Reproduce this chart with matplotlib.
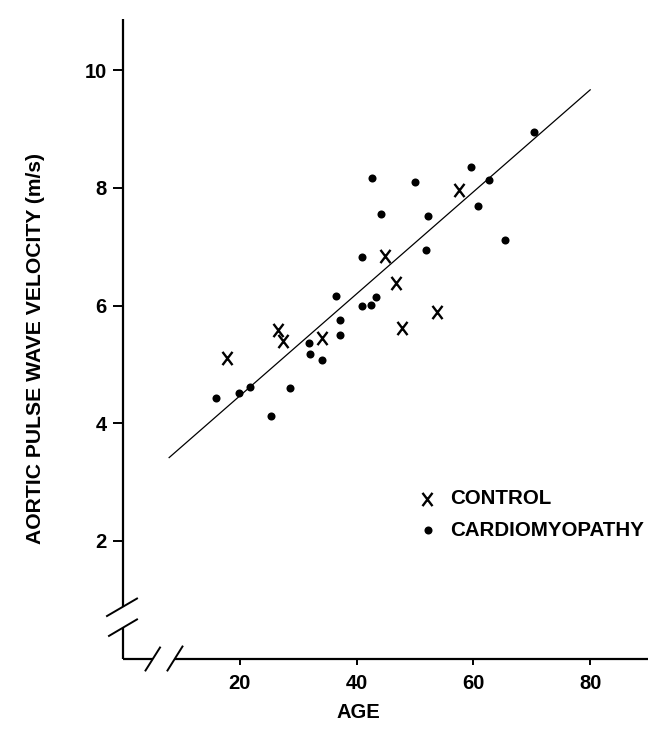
import matplotlib
matplotlib.use("Agg")
import matplotlib.pyplot as plt
from matplotlib.path import Path
from matplotlib.lines import Line2D

plt.rcParams['font.family'] = ['Liberation Sans', 'DejaVu Sans']
plt.rcParams['font.weight'] = 'bold'

# control subjects (X)
control_age = [17.8, 26.6, 27.4, 34.0, 44.9, 46.7, 47.7, 53.7, 57.6]
control_pwv = [5.10, 5.59, 5.40, 5.45, 6.84, 6.38, 5.61, 5.89, 7.97]

# cardiomyopathy patients (dots)
cmp_age = [16.0, 19.9, 21.7, 25.3, 28.6, 31.8, 32.0, 34.0, 37.2, 37.2,
           36.5, 41.0, 41.0, 42.5, 43.4, 42.6, 44.2, 50.0, 51.9, 52.3,
           59.6, 60.8, 62.6, 65.4, 70.3]
cmp_pwv = [4.42, 4.52, 4.62, 4.12, 4.59, 5.36, 5.17, 5.07, 5.75, 5.50,
           6.16, 6.83, 5.99, 6.01, 6.14, 8.16, 7.55, 8.10, 6.94, 7.52,
           8.36, 7.69, 8.14, 7.12, 8.95]

# regression line
fit_intercept = 2.73
fit_slope = 0.0867
fit_range = [7.9, 80.0]

x_ticks = [20, 40, 60, 80]
y_ticks = [2, 4, 6, 8, 10]

W, H = 648, 739
fig = plt.figure(figsize=(W / 100, H / 100), dpi=100)
ax = fig.add_axes([123 / W, 80.5 / H, 525 / W, 639.5 / H])
xmax, ymax = 89.9, 10.87
ax.set_xlim(0, xmax)
ax.set_ylim(0, ymax)

# letter-like X marker (a bit taller than wide)
xmark = Path([(-0.38, -0.5), (0.38, 0.5), (-0.38, 0.5), (0.38, -0.5)],
             [Path.MOVETO, Path.LINETO, Path.MOVETO, Path.LINETO])

fx = [fit_range[0], fit_range[1]]
fy = [fit_intercept + fit_slope * a for a in fx]
ax.plot(fx, fy, color='black', lw=0.9)
ax.plot(cmp_age, cmp_pwv, 'o', color='black', ms=5.8, mew=0)
ax.plot(control_age, control_pwv, ls='none', marker=xmark, ms=9.5,
        mec='black', mew=1.7)

for s in ax.spines.values():
    s.set_visible(False)

# axis lines with breaks
kw = dict(color='black', lw=1.6, clip_on=False, solid_capstyle='butt')
ax.plot([0, 0], [0, 0.52], **kw)
ax.plot([0, 0], [0.875, ymax], **kw)
ax.plot([0, 5.14], [0, 0], **kw)
ax.plot([8.9, xmax], [0, 0], **kw)

# break slashes, drawn in pixels
def slash(xd, yd, dx0, dy0, dx1, dy1):
    px, py = ax.transData.transform((xd, yd))
    fig.add_artist(Line2D([px + dx0, px + dx1], [py + dy0, py + dy1],
                          transform=None, color='black', lw=1.4))

fig.canvas.draw()
slash(0, 0.875, -16, -9, 14, 8.5)
slash(0, 0.52, -14, -8, 14, 8.5)
slash(5.14, 0, -7.5, -12, 7, 11)
slash(8.9, 0, -7.5, -12, 7.5, 12)

ax.set_xticks(x_ticks)
ax.set_yticks(y_ticks)
ax.tick_params(axis='x', direction='out', length=4.5, width=1.4, pad=7,
               labelsize=14.5)
ax.tick_params(axis='y', direction='out', length=7.2, width=1.4, pad=4.5,
               labelsize=14.5)
for lab in ax.get_xticklabels() + ax.get_yticklabels():
    lab.set_fontweight('bold')

fig.text(358 / W, 1 - 713 / H, 'AGE', ha='center', va='center',
         fontsize=14.5, fontweight='bold')
fig.text(36 / W, 1 - 349 / H, 'AORTIC PULSE WAVE VELOCITY (m/s)',
         rotation=90, ha='center', va='center', fontsize=15.2,
         fontweight='bold')

# legend
fig.add_artist(Line2D([427 / W], [1 - 499 / H], ls='none', marker=xmark,
                      ms=9.5, mec='black', mew=1.7))
fig.add_artist(Line2D([428 / W], [1 - 530 / H], ls='none', marker='o',
                      ms=5.8, mew=0, color='black'))
fig.text(450 / W, 1 - 499 / H, 'CONTROL', ha='left', va='center',
         fontsize=14.8, fontweight='bold')
fig.text(450 / W, 1 - 530 / H, 'CARDIOMYOPATHY', ha='left', va='center',
         fontsize=14.8, fontweight='bold')

fig.savefig('out.png', dpi=100)
